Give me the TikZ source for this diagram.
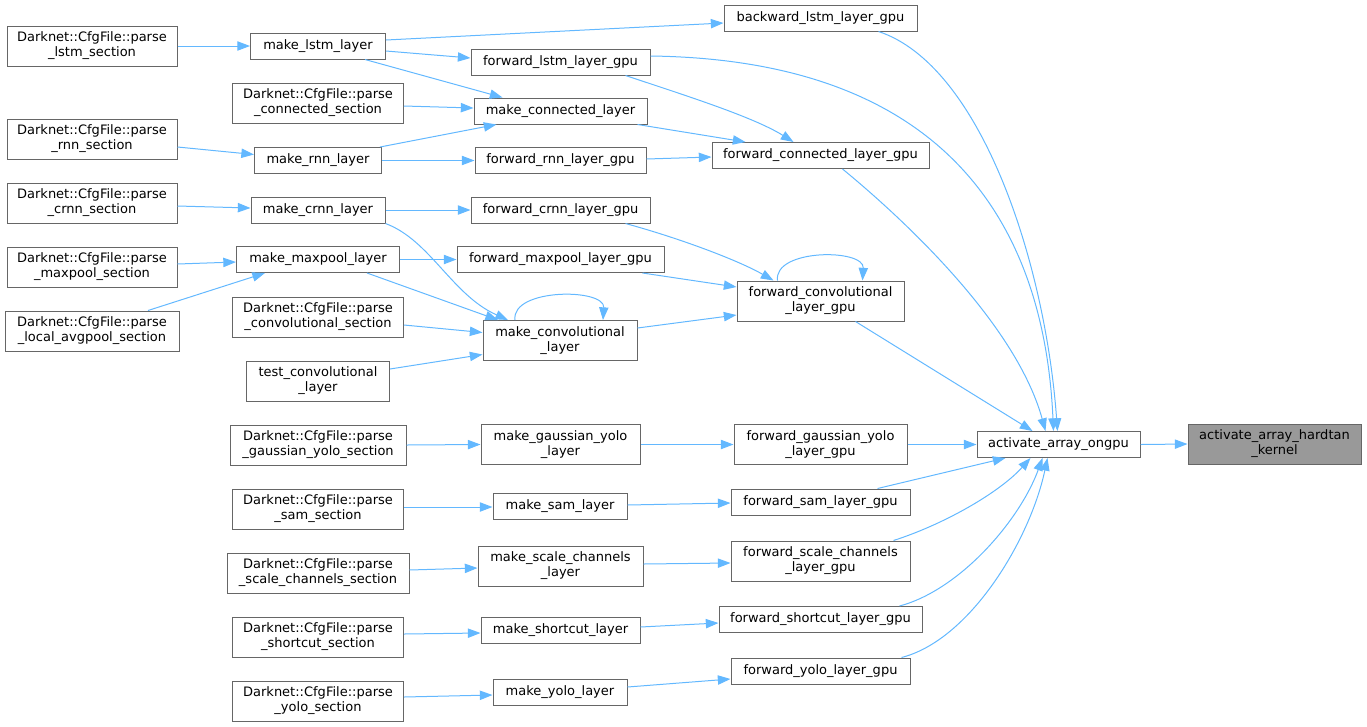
\documentclass[tikz,border=0pt]{standalone}
\usepackage{fontspec}
\setmainfont{DejaVu Sans}
\usetikzlibrary{calc,arrows.meta}
\definecolor{edgeblue}{HTML}{63B8FF}
\definecolor{boxgray}{HTML}{666666}
\definecolor{hardfill}{HTML}{999999}
\tikzset{
  fn/.style={draw=boxgray, line width=0.75pt, fill=white, inner sep=0pt, align=center,
    font=\fontsize{9.75pt}{11.25pt}\selectfont},
  wh/.style 2 args={minimum width=#1*0.75pt, minimum height=#2*0.75pt},
  arr/.style={draw=edgeblue, line width=0.75pt, -{Triangle[length=9.5pt,width=7pt]}},
}
\begin{document}
\begin{tikzpicture}[x=0.75pt,y=-0.75pt]
\useasboundingbox (0,0) rectangle (1367,726);
% column 1
\node[fn, wh={170}{40}] (plstm) at (92,46) {Darknet::CfgFile::parse\\\_lstm\_section};
\node[fn, wh={170}{40}] (prnn) at (92,139) {Darknet::CfgFile::parse\\\_rnn\_section};
\node[fn, wh={170}{40}] (pcrnn) at (92,203) {Darknet::CfgFile::parse\\\_crnn\_section};
\node[fn, wh={170}{40}] (pmax) at (92,267) {Darknet::CfgFile::parse\\\_maxpool\_section};
\node[fn, wh={174}{40}] (plocal) at (92,331) {Darknet::CfgFile::parse\\\_local\_avgpool\_section};
% column 2
\node[fn, wh={135}{26}] (mlstm) at (318,46) {make\_lstm\_layer};
\node[fn, wh={171}{40}] (pconn) at (318,103) {Darknet::CfgFile::parse\\\_connected\_section};
\node[fn, wh={127}{26}] (mrnn) at (318,160.5) {make\_rnn\_layer};
\node[fn, wh={134}{26}] (mcrnn) at (318,210) {make\_crnn\_layer};
\node[fn, wh={163}{26}] (mmax) at (318,259.5) {make\_maxpool\_layer};
\node[fn, wh={171}{40}] (pconvsec) at (318,317) {Darknet::CfgFile::parse\\\_convolutional\_section};
\node[fn, wh={143}{40}] (testconv) at (318,381) {test\_convolutional\\\_layer};
\node[fn, wh={176}{40}] (pgauss) at (318,445) {Darknet::CfgFile::parse\\\_gaussian\_yolo\_section};
\node[fn, wh={171}{40}] (psam) at (318,509) {Darknet::CfgFile::parse\\\_sam\_section};
\node[fn, wh={182}{40}] (pscale) at (318,573) {Darknet::CfgFile::parse\\\_scale\_channels\_section};
\node[fn, wh={171}{40}] (pshort) at (318,637) {Darknet::CfgFile::parse\\\_shortcut\_section};
\node[fn, wh={171}{40}] (pyolo) at (318,701) {Darknet::CfgFile::parse\\\_yolo\_section};
% column 3
\node[fn, wh={179}{26}] (flstm) at (560.5,62) {forward\_lstm\_layer\_gpu};
\node[fn, wh={173}{26}] (mconn) at (560.5,111) {make\_connected\_layer};
\node[fn, wh={171}{26}] (frnn) at (560.5,160.5) {forward\_rnn\_layer\_gpu};
\node[fn, wh={179}{26}] (fcrnn) at (560.5,210) {forward\_crnn\_layer\_gpu};
\node[fn, wh={207}{26}] (fmax) at (560.5,259.5) {forward\_maxpool\_layer\_gpu};
\node[fn, wh={154}{40}] (mconv) at (560,340.5) {make\_convolutional\\\_layer};
\node[fn, wh={159}{40}] (mgauss) at (560.5,444.5) {make\_gaussian\_yolo\\\_layer};
\node[fn, wh={134}{26}] (msam) at (560,506) {make\_sam\_layer};
\node[fn, wh={165}{40}] (mscale) at (560.5,566) {make\_scale\_channels\\\_layer};
\node[fn, wh={159}{26}] (mshort) at (560.5,630) {make\_shortcut\_layer};
\node[fn, wh={134}{26}] (myolo) at (560,692) {make\_yolo\_layer};
% column 4
\node[fn, wh={193}{26}] (blstm) at (820.5,18) {backward\_lstm\_layer\_gpu};
\node[fn, wh={217}{26}] (fconn) at (820.5,155.5) {forward\_connected\_layer\_gpu};
\node[fn, wh={167}{40}] (fconv) at (820.5,301) {forward\_convolutional\\\_layer\_gpu};
\node[fn, wh={173}{40}] (fgauss) at (820.5,444.5) {forward\_gaussian\_yolo\\\_layer\_gpu};
\node[fn, wh={179}{26}] (fsam) at (820.5,502) {forward\_sam\_layer\_gpu};
\node[fn, wh={179}{40}] (fscale) at (820.5,561) {forward\_scale\_channels\\\_layer\_gpu};
\node[fn, wh={203}{26}] (fshort) at (820.5,619.5) {forward\_shortcut\_layer\_gpu};
\node[fn, wh={179}{26}] (fyolo) at (820.5,671) {forward\_yolo\_layer\_gpu};
% column 5
\node[fn, wh={163}{26}] (act) at (1058.5,444.5) {activate\_array\_ongpu};
\node[fn, wh={173}{40}, fill=hardfill] (hard) at (1274.5,444) {activate\_array\_hardtan\\\_kernel};

% edges
\draw[arr] (plstm.east) -- (mlstm.west);
\draw[arr] ($(mlstm.east)+(0,-6)$) -- ($(blstm.west)+(0,5)$);
\draw[arr] ($(mlstm.east)+(0,5)$) -- ($(flstm.west)+(0,-4)$);
\draw[arr] ($(mlstm.south)+(47,0)$) -- ($(mconn.north)+(-58,0)$);
\draw[arr] ($(pconn.east)+(0,3)$) -- ($(mconn.west)+(0,-3)$);
\draw[arr] ($(mrnn.north east)+(-2,0)$) -- ($(mconn.south)+(-64,0)$);
\draw[arr] ($(prnn.east)+(0,8)$) -- ($(mrnn.west)+(0,-6)$);
\draw[arr] (mrnn.east) -- (frnn.west);
\draw[arr] ($(mconn.south)+(77,0)$) -- ($(fconn.north)+(-75,0)$);
\draw[arr] ($(flstm.south)+(65,0)$) .. controls +(60,20) and +(-40,-25) .. ($(fconn.north)+(-27,0)$);
\draw[arr] ($(frnn.east)+(0,-1.5)$) -- ($(fconn.west)+(0,1.5)$);
\draw[arr] ($(pcrnn.east)+(0,3)$) -- ($(mcrnn.west)+(0,-2)$);
\draw[arr] (mcrnn.east) -- (fcrnn.west);
\draw[arr] (mcrnn.south east) .. controls (430,240) and (452,295) .. ($(mconv.north)+(-52,0)$);
\draw[arr] ($(pmax.east)+(0,-3)$) -- ($(mmax.west)+(0,2.5)$);
\draw[arr] ($(plocal.north)+(56,0)$) -- ($(mmax.south)+(-53,0)$);
\draw[arr] (mmax.east) -- (fmax.west);
\draw[arr] ($(mmax.south)+(49,0)$) -- ($(mconv.north)+(-62,0)$);
\draw[arr] ($(pconvsec.east)+(0,8)$) -- ($(mconv.west)+(0,-8)$);
\draw[arr] ($(testconv.east)+(0,-12)$) -- ($(mconv.west)+(0,14)$);
\draw[arr] ($(mconv.north)+(-45,0)$) .. controls +(-4,-32) and +(2,-32) .. ($(mconv.north)+(43,0)$);
\draw[arr] ($(fcrnn.south)+(65,0)$) .. controls +(55,15) and +(-35,-20) .. ($(fconv.north)+(-47,0)$);
\draw[arr] ($(fmax.south)+(82,0)$) -- ($(fconv.west)+(0,-14)$);
\draw[arr] ($(mconv.east)+(0,-12.5)$) -- ($(fconv.west)+(0,14)$);
\draw[arr] ($(fconv.north)+(-43,0)$) .. controls +(-4,-32) and +(2,-32) .. ($(fconv.north)+(42,0)$);
\draw[arr] ($(blstm.south)+(58,0)$) .. controls (980,65) and (1045,260) .. ($(act.north)+(-1,0)$);
\draw[arr] ($(flstm.east)+(0,-6)$) .. controls (960,60) and (1045,240) .. ($(act.north)+(-5,0)$);
\draw[arr] ($(fconn.south)+(22,0)$) .. controls (895,212) and (1015,320) .. ($(act.north)+(-13,0)$);
\draw[arr] ($(fconv.south)+(35,0)$) -- ($(act.north)+(-26,0)$);
\draw[arr] (pgauss.east) -- (mgauss.west);
\draw[arr] (mgauss.east) -- (fgauss.west);
\draw[arr] (fgauss.east) -- (act.west);
\draw[arr] ($(psam.east)+(0,-2)$) -- ($(msam.west)+(0,1)$);
\draw[arr] ($(msam.east)+(0,-1)$) -- ($(fsam.west)+(0,1)$);
\draw[arr] ($(fsam.north)+(57,0)$) -- ($(act.south)+(-53,0)$);
\draw[arr] ($(pscale.east)+(0,-3)$) -- ($(mscale.west)+(0,2)$);
\draw[arr] ($(mscale.east)+(0,-2)$) -- ($(fscale.west)+(0,2)$);
\draw[arr] ($(fscale.north)+(73,0)$) .. controls (945,524) and (1000,492) .. ($(act.south)+(-28,0)$);
\draw[arr] ($(pshort.east)+(0,-3)$) -- ($(mshort.west)+(0,3)$);
\draw[arr] ($(mshort.east)+(0,-3)$) -- ($(fshort.west)+(0,3.5)$);
\draw[arr] ($(fshort.north)+(79,0)$) .. controls (960,590) and (1020,520) .. ($(act.south)+(-16,0)$);
\draw[arr] ($(pyolo.east)+(0,-4)$) -- ($(myolo.west)+(0,3)$);
\draw[arr] ($(myolo.east)+(0,-5)$) -- ($(fyolo.west)+(0,8)$);
\draw[arr] ($(fyolo.north)+(81,0)$) .. controls (970,640) and (1030,540) .. ($(act.south)+(-11,0)$);
\draw[arr] (act.east) -- (hard.west);
\end{tikzpicture}
\end{document}
